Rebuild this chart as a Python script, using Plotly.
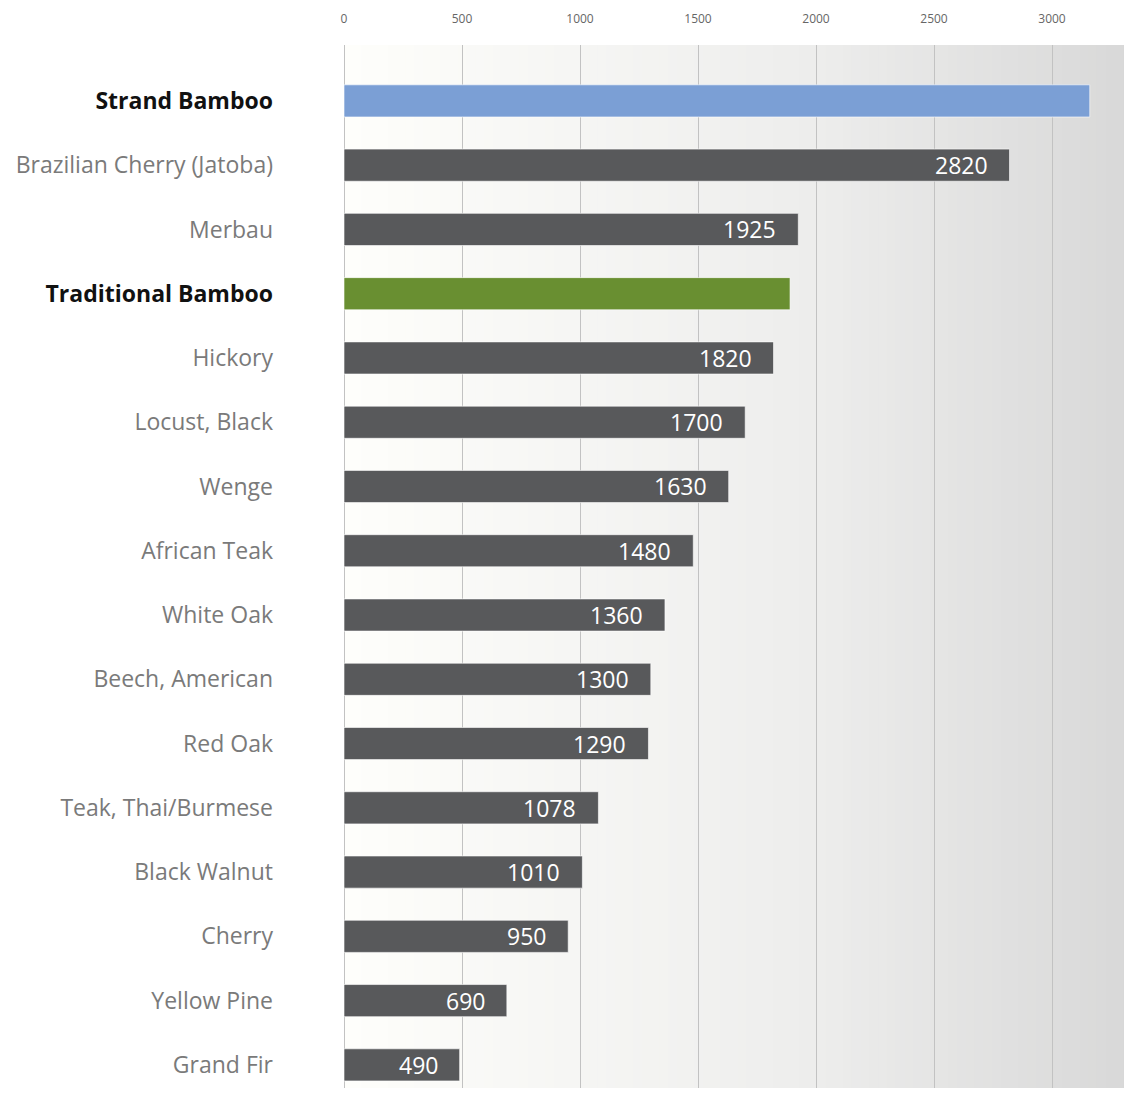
import plotly.graph_objects as go

categories = ["Strand Bamboo", "Brazilian Cherry (Jatoba)", "Merbau", "Traditional Bamboo",
              "Hickory", "Locust, Black", "Wenge", "African Teak", "White Oak",
              "Beech, American", "Red Oak", "Teak, Thai/Burmese", "Black Walnut",
              "Cherry", "Yellow Pine", "Grand Fir"]
values = [3160, 2820, 1925, 1890, 1820, 1700, 1630, 1480, 1360, 1300, 1290, 1078, 1010, 950, 690, 490]
value_labels = ["", "2820", "1925", "", "1820", "1700", "1630", "1480", "1360", "1300",
                "1290", "1078", "1010", "950", "690", "490"]
highlight = {"Strand Bamboo": "#7b9fd5", "Traditional Bamboo": "#698f31"}
x_ticks = [0, 500, 1000, 1500, 2000, 2500, 3000]

DARK = "#58595b"
FONT = "Open Sans"

bar_colors = [highlight.get(c, DARK) for c in categories]
tick_text = []
for c in categories:
    if c in highlight:
        tick_text.append(f'<span style="color:#111111"><b>{c}</b></span>')
    else:
        tick_text.append(f'<span style="color:#7a7a7a">{c}</span>')

fig = go.Figure()
fig.add_trace(go.Bar(
    x=values, y=categories, orientation="h",
    marker=dict(color=bar_colors, line=dict(color="rgba(255,255,255,0.6)", width=1)),
    hoverinfo="x+y",
))

for c, v, t in zip(categories, values, value_labels):
    if t:
        fig.add_annotation(x=v, y=c, text=t, showarrow=False, xanchor="right",
                           xshift=-20, font=dict(family=FONT, size=23, color="white"),
                           xref="x", yref="y")

# horizontal white -> grey background gradient (styling only)
n = 90
def shade(t):
    a = (254, 254, 251)
    m = (237, 237, 236)
    b = (216, 216, 216)
    if t < 0.6:
        s = t / 0.6
        return tuple(round(a[i] + (m[i] - a[i]) * s) for i in range(3))
    s = (t - 0.6) / 0.4
    return tuple(round(m[i] + (b[i] - m[i]) * s) for i in range(3))

shapes = []
for i in range(n):
    r, g, b = shade((i + 0.5) / n)
    shapes.append(dict(type="rect", xref="paper", yref="paper",
                       x0=i / n, x1=(i + 1) / n + 0.002, y0=0, y1=1,
                       fillcolor=f"rgb({r},{g},{b})", line=dict(width=0), layer="below"))

fig.update_layout(
    width=1124, height=1080, autosize=False,
    margin=dict(l=336, r=0, t=37, b=0),
    paper_bgcolor="white", plot_bgcolor="rgba(0,0,0,0)",
    showlegend=False, bargap=0.5,
    shapes=shapes,
    font=dict(family=FONT),
    xaxis=dict(side="top", range=[0, 3339], tickvals=x_ticks,
               ticktext=[str(v) for v in x_ticks],
               showgrid=True, gridcolor="#c2c2c2", gridwidth=1,
               zeroline=True, zerolinecolor="#c2c2c2", zerolinewidth=1,
               showline=False, ticks="", ticklabelstandoff=19,
               tickfont=dict(family=FONT, size=12, color="#666666")),
    yaxis=dict(type="category", categoryorder="array", categoryarray=categories,
               range=[15.36, -0.87], tickvals=categories, ticktext=tick_text,
               showgrid=False, zeroline=False, showline=False, ticks="",
               ticklabelstandoff=70,
               tickfont=dict(family=FONT, size=23, color="#7a7a7a")),
)

fig.write_html("out.html")
